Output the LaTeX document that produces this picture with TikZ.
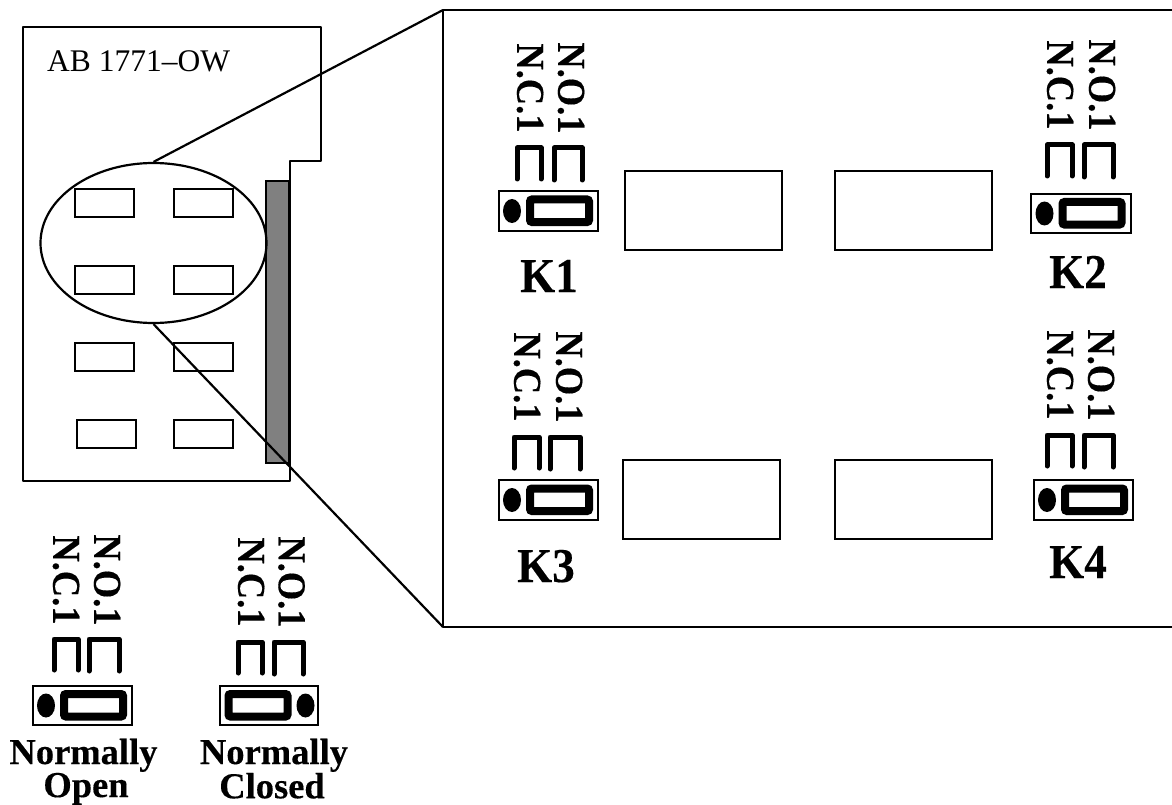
\documentclass[tikz,border=0pt]{standalone}
\usepackage{fontspec}
\setmainfont{Liberation Serif}
\newfontface\heavyface{Liberation Serif Bold}[FakeBold=0.3]
\usetikzlibrary{shapes.geometric}
\tikzset{
  thin line/.style={draw=black,line width=2.2pt,line join=round},
  relay/.style={rectangle,draw=black,line width=2pt,inner sep=0pt},
  contact/.style={font=\fontsize{36.5}{36}\heavyface,rotate=-90,inner sep=0pt},
  klabel/.style={font=\fontsize{45}{45}\heavyface,inner sep=0pt,anchor=base},
  caption/.style={font=\fontsize{36.5}{31}\heavyface,inner sep=0pt,anchor=north,align=center},
  prong/.style={line width=5pt,line cap=round,line join=round},
}
\newcommand{\tall}[1]{\scalebox{1}[1.08]{#1}}
% #1 prefix; #2 housing left; #3 housing top; #4 housing width; #5 housing height; #6 1 = dot left, -1 = dot right
\newcommand{\housing}[6]{%
  \node[rectangle,draw,line width=2pt,minimum width=#4pt,minimum height=#5pt,inner sep=0pt] (#1box) at (#2+#4/2,#3+#5/2) {};
  \begin{scope}[shift={(#2+#4/2,#3+#5/2)},xscale=#6]
    \fill (-36.5,0) ellipse (9 and 12);
    \draw[line width=8pt,rounded corners=2pt] (-18.5,-11.5) rectangle (40.5,11);
  \end{scope}}
% #1 prefix; #2 nc x; #3 no x; #4 text y; #5,#6 left prong x; #7,#8 right prong x; #9 top y
\newcommand{\prongs}[9]{%
  \node[contact] (#1nc) at (#2,#4) {\tall{N.C.1}};
  \node[contact] (#1no) at (#3,#4) {\tall{N.O.1}};
  \draw[prong] (#5,#9+31) -- (#5,#9) -- (#6,#9) -- (#6,#9+31);
  \draw[prong] (#7,#9+32) -- (#7,#9) -- (#8,#9) -- (#8,#9+32);}
\begin{document}
\begin{tikzpicture}[x=1pt,y=-1pt]
\useasboundingbox (0,0) rectangle (1172,805);
\fill[white] (0,0) rectangle (1172,805);
% card
\draw[thin line] (23,27) -- (321,27) -- (321,161) -- (290,161) -- (290,481) -- (23,481) -- cycle;
\node[rectangle,draw=black,line width=2pt,fill=black!50,minimum width=23pt,minimum height=282pt,inner sep=0pt] (strip) at (277.5,322) {};
\node[anchor=base west,inner sep=0pt,font=\fontsize{31.5}{32}\selectfont] (title) at (47,71.5) {AB 1771--OW};
\foreach \n/\x/\y in {a/104/203,b/203.5/203,c/104/280,d/203.5/280,e/104/357,f/203.5/357,g/106.5/434,h/203.5/434}
  \node[relay,minimum width=59pt,minimum height=28pt] (r\n) at (\x,\y) {};
\node[ellipse,draw=black,line width=2.2pt,minimum width=226pt,minimum height=160pt,inner sep=0pt] (lens) at (153.5,243) {};
% zoom frame
\coordinate (zt) at (443,10);
\coordinate (zb) at (443,627);
\coordinate (zte) at (1172,10);
\coordinate (zbe) at (1172,627);
\draw[thin line] (zte) -- (zt) -- (zb) -- (zbe);
\draw[thin line] (lens.north) -- (zt);
\draw[thin line] (lens.south) -- (zb);
% relays in the zoom
\node[relay,minimum width=157pt,minimum height=79pt] (z1) at (703.5,210.5) {};
\node[relay,minimum width=157pt,minimum height=79pt] (z2) at (913.5,210.5) {};
\node[relay,minimum width=157pt,minimum height=79pt] (z3) at (701,499.5) {};
\node[relay,minimum width=157pt,minimum height=79pt] (z4) at (913.5,499.5) {};
\housing{ka}{499}{191}{99}{40}{1}
\prongs{ka}{530}{571}{88}{517}{541}{554}{582}{148}
\housing{kb}{1031}{194}{100}{39}{1}
\prongs{kb}{1060}{1102}{85}{1047}{1072}{1084}{1113}{145}
\housing{kc}{499}{480}{99}{40}{1}
\prongs{kc}{527}{569}{377}{514}{539}{550}{580}{437}
\housing{kd}{1034}{480}{99}{40}{1}
\prongs{kd}{1060}{1101}{375}{1047}{1072}{1084}{1113}{435}
\housing{no}{33}{686}{99}{39}{1}
\prongs{no}{66}{107}{580}{54}{78}{89}{119}{639}
\housing{nc}{220}{686}{98}{39}{-1}
\prongs{nc}{251}{291.5}{582}{238}{262}{274}{303}{642}
\node[klabel] (k1) at (549,292) {\tall{K1}};
\node[klabel] (k2) at (1078,288) {\tall{K2}};
\node[klabel] (k3) at (546,582) {\tall{K3}};
\node[klabel] (k4) at (1078,578) {\tall{K4}};
\node[caption] (cno) at (83.5,738.5) {Normally\\\hspace*{5pt}Open};
\node[caption] (cnc) at (274,738.5) {Normally\\\hspace*{-4pt}Closed};
\end{tikzpicture}
\end{document}
